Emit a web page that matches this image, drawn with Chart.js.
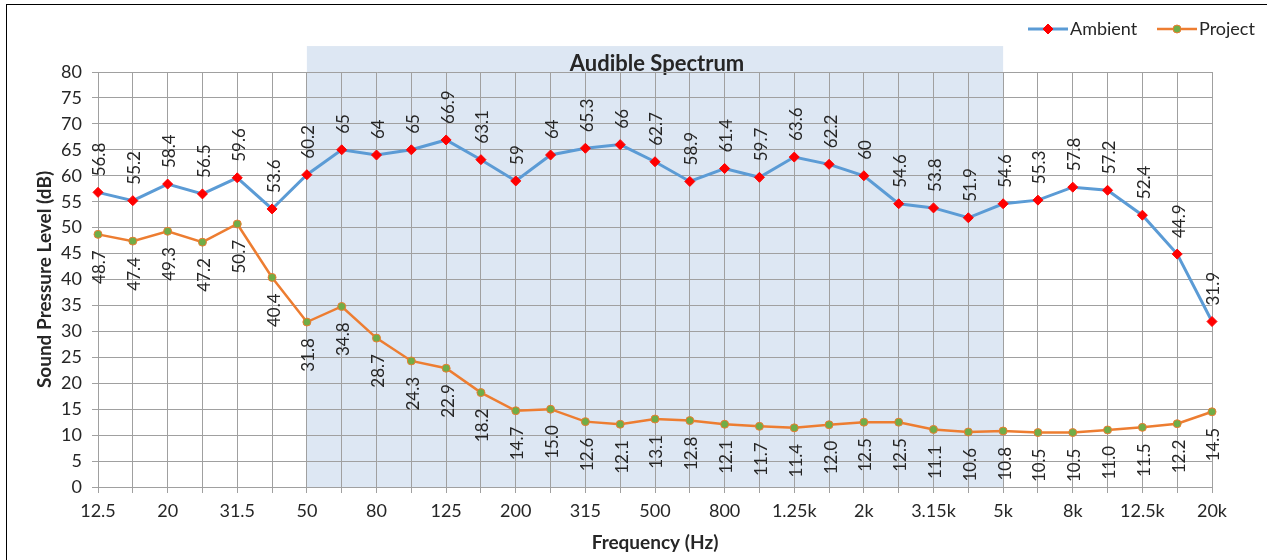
<!DOCTYPE html>
<html>
<head>
<meta charset="utf-8">
<title>Sound Pressure Level</title>
<script src="https://cdn.jsdelivr.net/npm/chart.js@4.4.0/dist/chart.umd.min.js"></script>
<style>
  html, body { margin: 0; padding: 0; background: #fff; overflow: hidden; }
  #wrap { position: relative; width: 1267px; height: 560px; overflow: hidden; }
  #wrap canvas { position: absolute; left: 0; top: 0; }
  #frame { position: absolute; left: 6px; top: 4px; width: 1300px; height: 600px; border: 1px solid #000; pointer-events: none; }
</style>
</head>
<body>
<div id="wrap">
  <canvas id="myChart" width="1267" height="560"></canvas>
  <div id="frame"></div>
</div>
<script>
// 1/3 octave band centre frequencies (Hz)
var bands = ["12.5", "16", "20", "25", "31.5", "40", "50", "63", "80", "100", "125", "160",
  "200", "250", "315", "400", "500", "630", "800", "1k", "1.25k", "1.6k", "2k", "2.5k",
  "3.15k", "4k", "5k", "6.3k", "8k", "10k", "12.5k", "16k", "20k"];

// Measured levels, dB
var ambient = [56.8, 55.2, 58.4, 56.5, 59.6, 53.6, 60.2, 65, 64, 65, 66.9, 63.1,
  59, 64, 65.3, 66, 62.7, 58.9, 61.4, 59.7, 63.6, 62.2, 60, 54.6,
  53.8, 51.9, 54.6, 55.3, 57.8, 57.2, 52.4, 44.9, 31.9];
var project = [48.7, 47.4, 49.3, 47.2, 50.7, 40.4, 31.8, 34.8, 28.7, 24.3, 22.9, 18.2,
  14.7, 15.0, 12.6, 12.1, 13.1, 12.8, 12.1, 11.7, 11.4, 12.0, 12.5, 12.5,
  11.1, 10.6, 10.8, 10.5, 10.5, 11.0, 11.5, 12.2, 14.5];

// Y axis range and step
var yRange = [0, 80];
var yStep = 5;

// Shaded band between these frequencies
var audibleBand = ["50", "5k"];
var audibleTop = 85;
var audibleTitle = "Audible Spectrum";

var xTitle = "Frequency (Hz)";
var yTitle = "Sound Pressure Level (dB)";

var FONT = "Lato, 'Open Sans', sans-serif";
var TEXT = "#262626";
var GRID = "#a0a0a0";

Chart.defaults.font.family = FONT;
Chart.defaults.font.size = 18;
Chart.defaults.color = TEXT;

// Light blue box behind the grid, plus its caption
var bandPlugin = {
  id: "audibleBand",
  beforeDraw: function (chart) {
    var ctx = chart.ctx;
    var xs = chart.scales.x, ys = chart.scales.y;
    var left = xs.getPixelForValue(bands.indexOf(audibleBand[0]));
    var right = xs.getPixelForValue(bands.indexOf(audibleBand[1]));
    var top = ys.getPixelForValue(audibleTop);
    var bottom = ys.getPixelForValue(0);
    ctx.save();
    ctx.fillStyle = "#dde7f3";
    ctx.fillRect(left, top, right - left, bottom - top);
    ctx.fillStyle = TEXT;
    ctx.font = "bold 22px " + FONT;
    ctx.textAlign = "center";
    ctx.textBaseline = "middle";
    ctx.fillText(audibleTitle, (left + right) / 2 + 2, top + 18);
    ctx.restore();
  }
};

// Rotated value labels: above the points for ambient, below for project
var valueLabels = {
  id: "valueLabels",
  afterDatasetsDraw: function (chart) {
    var ctx = chart.ctx;
    chart.data.datasets.forEach(function (ds, di) {
      var meta = chart.getDatasetMeta(di);
      var above = ds.labelPos === "above";
      meta.data.forEach(function (pt, i) {
        var v = ds.data[i];
        var text = above ? String(v) : v.toFixed(1);
        ctx.save();
        ctx.translate(pt.x + 2, pt.y + (above ? -16 : 16));
        ctx.rotate(-Math.PI / 2);
        ctx.font = "17px " + FONT;
        ctx.fillStyle = TEXT;
        ctx.textAlign = above ? "left" : "right";
        ctx.textBaseline = "middle";
        ctx.fillText(text, 0, 0);
        ctx.restore();
      });
    });
  }
};

// Axis titles and the legend in the top right corner
var extras = {
  id: "extras",
  afterDraw: function (chart) {
    var ctx = chart.ctx;
    var area = chart.chartArea;
    ctx.save();
    ctx.fillStyle = TEXT;
    ctx.font = "bold 19px " + FONT;
    ctx.textAlign = "center";
    ctx.textBaseline = "middle";
    ctx.fillText(xTitle, (area.left + area.right) / 2, 543);
    ctx.save();
    ctx.translate(45, (area.top + area.bottom) / 2);
    ctx.rotate(-Math.PI / 2);
    ctx.fillText(yTitle, 0, 0);
    ctx.restore();

    var x0 = 1028;
    var y0 = 29;
    chart.data.datasets.forEach(function (ds) {
      ctx.strokeStyle = ds.borderColor;
      ctx.lineWidth = ds.borderWidth;
      ctx.beginPath();
      ctx.moveTo(x0, y0);
      ctx.lineTo(x0 + 40, y0);
      ctx.stroke();
      ctx.fillStyle = ds.pointBackgroundColor;
      ctx.strokeStyle = ds.pointBorderColor;
      ctx.lineWidth = ds.pointBorderWidth;
      Chart.helpers.drawPoint(ctx, {
        pointStyle: ds.pointStyle,
        radius: ds.pointRadius,
        rotation: 0,
        borderWidth: ds.pointBorderWidth
      }, x0 + 20, y0);
      ctx.fillStyle = TEXT;
      ctx.font = "18px " + FONT;
      ctx.textAlign = "left";
      ctx.fillText(ds.label, x0 + 42, y0);
      x0 += 129;
    });
    ctx.restore();
  }
};

var ctx = document.getElementById("myChart").getContext("2d");
var myChart = new Chart(ctx, {
  type: "line",
  data: {
    labels: bands,
    datasets: [
      {
        label: "Ambient",
        data: ambient,
        labelPos: "above",
        borderColor: "#5b9bd5",
        borderWidth: 3,
        pointStyle: "rectRot",
        pointRadius: 5,
        pointBackgroundColor: "#ff0000",
        pointBorderColor: "#ff0000",
        pointBorderWidth: 1,
        tension: 0
      },
      {
        label: "Project",
        data: project,
        labelPos: "below",
        borderColor: "#ed7d31",
        borderWidth: 2.5,
        pointStyle: "circle",
        pointRadius: 4,
        pointBackgroundColor: "#70ad47",
        pointBorderColor: "#ed7d31",
        pointBorderWidth: 1,
        tension: 0
      }
    ]
  },
  options: {
    responsive: false,
    animation: false,
    devicePixelRatio: 1,
    layout: { padding: { top: 72, right: 55, bottom: 0, left: 0 } },
    plugins: {
      legend: { display: false },
      tooltip: { enabled: false }
    },
    scales: {
      x: {
        offset: false,
        grid: { color: GRID, tickLength: 6 },
        border: { color: GRID },
        ticks: {
          autoSkip: false,
          maxRotation: 0,
          padding: 7,
          callback: function (value, index) {
            return index % 2 === 0 ? this.getLabelForValue(value) : "";
          }
        },
        afterFit: function (scale) { scale.height = 73; }
      },
      y: {
        min: yRange[0],
        max: yRange[1],
        grid: { color: GRID, tickLength: 6 },
        border: { color: GRID },
        ticks: { stepSize: yStep, padding: 10 },
        afterFit: function (scale) { scale.width = 98; }
      }
    }
  },
  plugins: [bandPlugin, valueLabels, extras]
});
</script>
</body>
</html>
